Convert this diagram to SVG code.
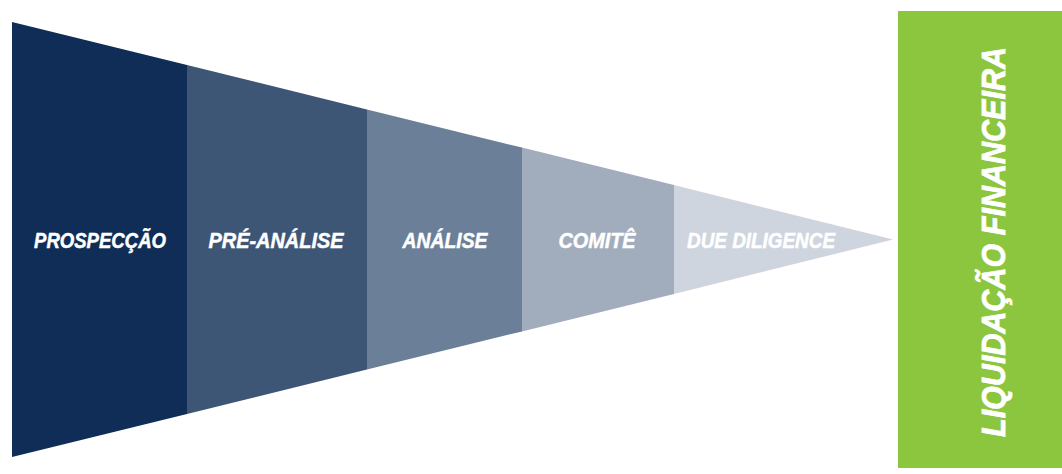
<svg xmlns="http://www.w3.org/2000/svg" width="1062" height="474" viewBox="0 0 1062 474">
<style>
.lbl{font-family:"Liberation Sans",Arial,sans-serif;font-weight:bold;font-style:italic;font-size:22px;fill:#ffffff;stroke:#ffffff;stroke-width:0.5;text-anchor:middle}
.big{font-family:"Liberation Sans",Arial,sans-serif;font-weight:bold;font-style:italic;font-size:34px;fill:#ffffff;stroke:#ffffff;stroke-width:0.8;text-anchor:middle}
</style>
<rect width="1062" height="474" fill="#ffffff"/>
<g id="prospeccao">
<polygon points="12,22 187,65.1 187,413.9 12,457" fill="#0f2d56"/>
<text class="lbl" x="100" y="248" textLength="132" lengthAdjust="spacingAndGlyphs">PROSPECÇÃO</text>
</g>
<g id="pre-analise">
<polygon points="187,65.1 367,109.4 367,369.6 187,413.9" fill="#3e5675"/>
<text class="lbl" x="276" y="248" textLength="135" lengthAdjust="spacingAndGlyphs">PRÉ-ANÁLISE</text>
</g>
<g id="analise">
<polygon points="367,109.4 522,147.6 522,331.4 367,369.6" fill="#6b7f99"/>
<text class="lbl" x="445" y="248" textLength="85" lengthAdjust="spacingAndGlyphs">ANÁLISE</text>
</g>
<g id="comite">
<polygon points="522,147.6 674,185 674,294 522,331.4" fill="#a1adbd"/>
<text class="lbl" x="597" y="248" textLength="77" lengthAdjust="spacingAndGlyphs">COMITÊ</text>
</g>
<g id="due-diligence">
<polygon points="674,185 893,239.5 674,294" fill="#cfd5de"/>
<text class="lbl" x="761" y="248" textLength="148" lengthAdjust="spacingAndGlyphs">DUE DILIGENCE</text>
</g>
<g id="liquidacao">
<rect x="898" y="11" width="164" height="457" fill="#8cc63f"/>
<text class="big" transform="translate(1005,242) rotate(-90)" x="0" y="0" textLength="390" lengthAdjust="spacingAndGlyphs">LIQUIDAÇÃO FINANCEIRA</text>
</g>
<g id="connectors"></g>
</svg>
